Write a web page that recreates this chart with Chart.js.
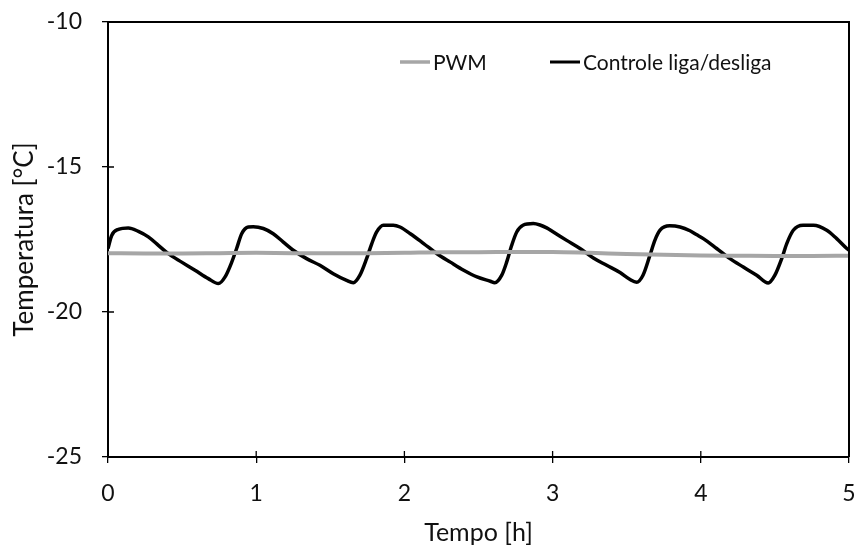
<!DOCTYPE html>
<html>
<head>
<meta charset="utf-8">
<script src="https://cdn.jsdelivr.net/npm/chart.js@4.4.1/dist/chart.umd.min.js"></script>
<style>
  html, body { margin: 0; padding: 0; background: #fff; }
</style>
</head>
<body>
<canvas id="chart" width="856" height="551"></canvas>
<script>
/* Temperatura: PWM x controle liga/desliga */

const fonte = "Lato, 'Noto Sans', sans-serif";

// controle liga/desliga (tempo em horas, temperatura em °C)
const tempoControle = [0, 0.025, 0.07, 0.137, 0.205, 0.272, 0.34, 0.407, 0.497, 0.587, 0.677, 0.745,
  0.79, 0.835, 0.868, 0.902, 0.947, 0.98, 1.048, 1.115, 1.183, 1.25, 1.34, 1.43, 1.52, 1.61, 1.655,
  1.70, 1.745, 1.78, 1.813, 1.858, 1.925, 1.97, 2.04, 2.13, 2.22, 2.31, 2.40, 2.49, 2.58, 2.61,
  2.657, 2.69, 2.724, 2.758, 2.80, 2.87, 2.915, 2.96, 3.005, 3.095, 3.185, 3.275, 3.365, 3.455, 3.52, 3.567,
  3.61, 3.657, 3.69, 3.725, 3.79, 3.86, 3.927, 3.97, 4.017, 4.107, 4.197, 4.287, 4.377, 4.455,
  4.50, 4.546, 4.58, 4.624, 4.69, 4.76, 4.85, 4.917, 4.985, 5.0];
const tempControle = [-17.81, -17.36, -17.15, -17.10, -17.22, -17.41, -17.70, -17.99, -18.28, -18.56, -18.85, -19.02,
  -18.79, -18.28, -17.81, -17.30, -17.07, -17.06, -17.12, -17.30, -17.59, -17.87, -18.16, -18.39, -18.68, -18.91, -18.99,
  -18.73, -18.16, -17.64, -17.24, -17.01, -17.01, -17.07, -17.30, -17.64, -17.99, -18.28, -18.56, -18.79, -18.94, -18.99,
  -18.73, -18.28, -17.70, -17.24, -17.01, -16.95, -17.00, -17.10, -17.24, -17.53, -17.81, -18.14, -18.39, -18.64, -18.87, -18.97,
  -18.73, -18.04, -17.53, -17.18, -17.03, -17.07, -17.20, -17.33, -17.47, -17.81, -18.16, -18.45, -18.73, -19.00,
  -18.73, -18.16, -17.64, -17.18, -17.01, -17.01, -17.18, -17.47, -17.81, -17.87];

// PWM
const tempoPwm = [0, 0.25, 0.5, 0.75, 1.0, 1.25, 1.5, 1.75, 2.0, 2.25, 2.5, 2.75, 3.0, 3.25, 3.5, 3.75, 4.0, 4.25, 4.5, 4.75, 5.0];
const tempPwm = [-17.97, -17.98, -17.98, -17.97, -17.96, -17.97, -17.97, -17.97, -17.96, -17.94, -17.94, -17.93, -17.93,
  -17.96, -18.0, -18.03, -18.05, -18.06, -18.07, -18.07, -18.06];

const eixoX = { min: 0, max: 5, passo: 1 };
const eixoY = { min: -25, max: -10, passo: 5 };

const nomesSeries = ["PWM", "Controle liga/desliga"];
const coresSeries = ["#a6a6a6", "#000000"];

const pontos = (xs, ys) => xs.map((x, i) => ({ x: x, y: ys[i] }));

// moldura, marcas internas e legenda
const extras = {
  id: "extras",
  afterDraw(chart) {
    const ctx = chart.ctx;
    const a = chart.chartArea;
    const sx = chart.scales.x;
    const sy = chart.scales.y;
    ctx.save();
    ctx.strokeStyle = "#000";
    ctx.lineWidth = 2;
    ctx.beginPath();
    ctx.moveTo(a.left, a.top);
    ctx.lineTo(a.right, a.top);
    ctx.lineTo(a.right, a.bottom);
    ctx.stroke();

    ctx.lineWidth = 1.3;
    ctx.beginPath();
    sx.ticks.forEach(t => {
      const px = sx.getPixelForValue(t.value);
      ctx.moveTo(px, a.bottom);
      ctx.lineTo(px, a.bottom - 6);
    });
    sy.ticks.forEach(t => {
      const py = sy.getPixelForValue(t.value);
      ctx.moveTo(a.left, py);
      ctx.lineTo(a.left + 6, py);
    });
    ctx.stroke();

    // legenda
    const itens = [
      { x: 400, texto: nomesSeries[0], cor: coresSeries[0], w: 3.5 },
      { x: 550, texto: nomesSeries[1], cor: coresSeries[1], w: 3 }
    ];
    const ly = 62;
    ctx.font = "21px " + fonte;
    ctx.textBaseline = "middle";
    ctx.textAlign = "left";
    itens.forEach(it => {
      ctx.strokeStyle = it.cor;
      ctx.lineWidth = it.w;
      ctx.beginPath();
      ctx.moveTo(it.x, ly);
      ctx.lineTo(it.x + 30, ly);
      ctx.stroke();
      ctx.fillStyle = "#111";
      ctx.fillText(it.texto, it.x + 33, ly + 1);
    });
    ctx.restore();
  }
};

const data = {
  datasets: [
    {
      label: nomesSeries[0],
      data: pontos(tempoPwm, tempPwm),
      borderColor: coresSeries[0],
      borderWidth: 4,
      pointRadius: 0,
      cubicInterpolationMode: "monotone"
    },
    {
      label: nomesSeries[1],
      data: pontos(tempoControle, tempControle),
      borderColor: coresSeries[1],
      borderWidth: 3.5,
      pointRadius: 0,
      cubicInterpolationMode: "monotone"
    }
  ]
};

const config = {
  type: "line",
  data: data,
  options: {
    responsive: false,
    animation: false,
    layout: { padding: { top: 22, right: 7, left: 0, bottom: 0 } },
    plugins: {
      legend: { display: false },
      tooltip: { enabled: false }
    },
    scales: {
      x: {
        type: "linear",
        min: eixoX.min,
        max: eixoX.max,
        afterFit: s => { s.height = 94; s.paddingLeft = 0; s.paddingRight = 0; },
        ticks: { stepSize: eixoX.passo, color: "#111", font: { family: fonte, size: 23 }, padding: 17, maxRotation: 0 },
        grid: { drawOnChartArea: false, tickLength: 6, color: "#000", lineWidth: 1.3 },
        border: { color: "#000", width: 2 },
        title: { display: true, text: "Tempo [h]", color: "#111", font: { family: fonte, size: 25 }, padding: { top: 0, bottom: 3 } }
      },
      y: {
        min: eixoY.min,
        max: eixoY.max,
        afterFit: s => { s.width = 108; s.paddingTop = 0; s.paddingBottom = 0; },
        ticks: { stepSize: eixoY.passo, color: "#111", font: { family: fonte, size: 23 }, padding: 20 },
        grid: { drawOnChartArea: false, tickLength: 6, color: "#000", lineWidth: 1.3 },
        border: { color: "#000", width: 2 },
        title: { display: true, text: "Temperatura [°C]", color: "#111", font: { family: fonte, size: 26 }, padding: { top: 9, bottom: 0 } }
      }
    }
  },
  plugins: [extras]
};

const chart = new Chart(document.getElementById("chart").getContext("2d"), config);
</script>
</body>
</html>
